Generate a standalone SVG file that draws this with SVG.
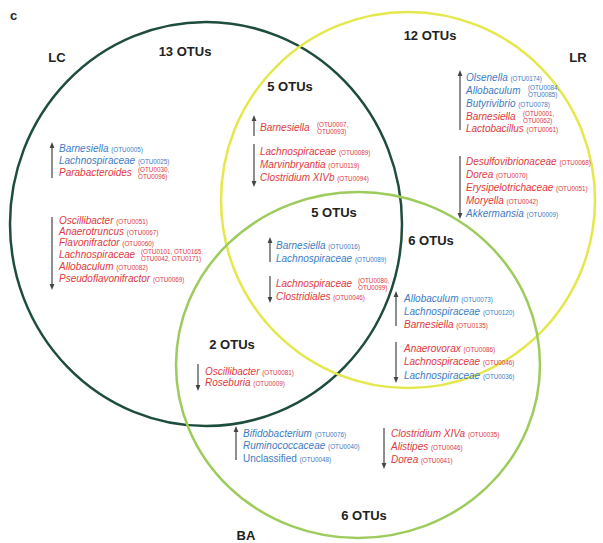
<svg xmlns="http://www.w3.org/2000/svg" width="603" height="543" viewBox="0 0 603 543">
<defs>
<marker id="ah" viewBox="0 0 10 10" refX="5" refY="5" markerWidth="5" markerHeight="5" orient="auto-start-reverse"><path d="M0,1 L10,5 L0,9 Z" fill="#444"/></marker>
<style>
text{font-family:"Liberation Sans",Arial,sans-serif}
.h{font-weight:bold;font-size:13px;fill:#222;text-anchor:middle}
.n{font-style:italic;font-size:10px}
.u{font-style:normal;font-size:6.3px}
.b{fill:#3b7cc4}
.r{fill:#e0393e}
.ar{stroke:#444;stroke-width:1.2;fill:none;marker-end:url(#ah)}
</style>
</defs>
<rect width="603" height="543" fill="#fff"/>
<g id="sets" fill="none" stroke-width="2.5">
<ellipse id="LC" cx="206" cy="224" rx="196" ry="202" stroke="#1f4d3c"/>
<ellipse id="LR" cx="408" cy="200" rx="187" ry="188" stroke="#e5e84c"/>
<ellipse id="BA" cx="358" cy="365" rx="182" ry="173" stroke="#9dcb5c"/>
</g>
<text x="10" y="20" style="font-weight:bold;font-size:13px;fill:#222">c</text>
<g id="labels">
<text class="h" x="57" y="62">LC</text>
<text class="h" x="185" y="56">13 OTUs</text>
<text class="h" x="430" y="40">12 OTUs</text>
<text class="h" x="578" y="62">LR</text>
<text class="h" x="290" y="91">5 OTUs</text>
<text class="h" x="334" y="217">5 OTUs</text>
<text class="h" x="431" y="245">6 OTUs</text>
<text class="h" x="232" y="349">2 OTUs</text>
<text class="h" x="364" y="520">6 OTUs</text>
<text class="h" x="246" y="540">BA</text>
</g>
<g id="connectors">
<line class="ar" x1="52" y1="178" x2="52" y2="145"/>
<line class="ar" x1="52" y1="217" x2="52" y2="287"/>
<line class="ar" x1="254" y1="136" x2="254" y2="118"/>
<line class="ar" x1="254" y1="144" x2="254" y2="184"/>
<line class="ar" x1="460" y1="130" x2="460" y2="73"/>
<line class="ar" x1="460" y1="156" x2="460" y2="216"/>
<line class="ar" x1="270" y1="262" x2="270" y2="240"/>
<line class="ar" x1="270" y1="276" x2="270" y2="300"/>
<line class="ar" x1="396" y1="326" x2="396" y2="294"/>
<line class="ar" x1="396" y1="342" x2="396" y2="380"/>
<line class="ar" x1="198" y1="364" x2="198" y2="388"/>
<line class="ar" x1="236" y1="460" x2="236" y2="429"/>
<line class="ar" x1="384" y1="428" x2="384" y2="466"/>
</g>
<g id="LC-only">
<text class="n b" x="59" y="152">Barnesiella <tspan class="u">(OTU0005)</tspan></text>
<text class="n b" x="59" y="164">Lachnospiraceae <tspan class="u">(OTU0025)</tspan></text>
<text class="n r" x="59" y="176">Parabacteroides</text>
<text class="u r" x="138" y="172">(OTU0030,</text>
<text class="u r" x="138" y="179">OTU0096)</text>
<text class="n r" x="59" y="224">Oscillibacter <tspan class="u">(OTU0051)</tspan></text>
<text class="n r" x="59" y="235">Anaerotruncus <tspan class="u">(OTU0067)</tspan></text>
<text class="n r" x="59" y="246">Flavonifractor <tspan class="u">(OTU0060)</tspan></text>
<text class="n r" x="59" y="258">Lachnospiraceae</text>
<text class="u r" x="141" y="254">(OTU0101, OTU0165,</text>
<text class="u r" x="141" y="261">OTU0042, OTU0171)</text>
<text class="n r" x="59" y="270">Allobaculum <tspan class="u">(OTU0082)</tspan></text>
<text class="n r" x="59" y="282">Pseudoflavonifractor <tspan class="u">(OTU0069)</tspan></text>
</g>
<g id="LC-LR">
<text class="n r" x="260" y="131">Barnesiella</text>
<text class="u r" x="317" y="127">(OTU0007,</text>
<text class="u r" x="317" y="134">OTU0093)</text>
<text class="n r" x="260" y="155">Lachnospiraceae <tspan class="u">(OTU0089)</tspan></text>
<text class="n r" x="260" y="168">Marvinbryantia <tspan class="u">(OTU0119)</tspan></text>
<text class="n r" x="260" y="181">Clostridium XIVb <tspan class="u">(OTU0094)</tspan></text>
</g>
<g id="LR-only">
<text class="n b" x="466" y="81">Olsenella <tspan class="u">(OTU0174)</tspan></text>
<text class="n b" x="466" y="94">Allobaculum</text>
<text class="u b" x="528" y="90">(OTU0084,</text>
<text class="u b" x="528" y="97">OTU0085)</text>
<text class="n b" x="466" y="107">Butyrivibrio <tspan class="u">(OTU0078)</tspan></text>
<text class="n r" x="466" y="120">Barnesiella</text>
<text class="u r" x="523" y="116">(OTU0001,</text>
<text class="u r" x="523" y="123">OTU0062)</text>
<text class="n r" x="466" y="132">Lactobacillus <tspan class="u">(OTU0061)</tspan></text>
<text class="n r" x="466" y="165">Desulfovibrionaceae <tspan class="u">(OTU0068)</tspan></text>
<text class="n r" x="466" y="178">Dorea <tspan class="u">(OTU0070)</tspan></text>
<text class="n r" x="466" y="191">Erysipelotrichaceae <tspan class="u">(OTU0051)</tspan></text>
<text class="n r" x="466" y="204">Moryella <tspan class="u">(OTU0042)</tspan></text>
<text class="n b" x="466" y="217">Akkermansia <tspan class="u">(OTU0009)</tspan></text>
</g>
<g id="LC-LR-BA">
<text class="n b" x="276" y="249">Barnesiella <tspan class="u">(OTU0016)</tspan></text>
<text class="n b" x="276" y="262">Lachnospiraceae <tspan class="u">(OTU0089)</tspan></text>
<text class="n r" x="276" y="287">Lachnospiraceae</text>
<text class="u r" x="358" y="283">(OTU0080,</text>
<text class="u r" x="358" y="290">OTU0099)</text>
<text class="n r" x="276" y="300">Clostridiales <tspan class="u">(OTU0046)</tspan></text>
</g>
<g id="LR-BA">
<text class="n b" x="404" y="302">Allobaculum <tspan class="u">(OTU0073)</tspan></text>
<text class="n b" x="404" y="315">Lachnospiraceae <tspan class="u">(OTU0120)</tspan></text>
<text class="n r" x="404" y="328">Barnesiella <tspan class="u">(OTU0135)</tspan></text>
<text class="n r" x="404" y="352">Anaerovorax <tspan class="u">(OTU0086)</tspan></text>
<text class="n r" x="404" y="365">Lachnospiraceae <tspan class="u">(OTU0046)</tspan></text>
<text class="n b" x="404" y="379">Lachnospiraceae <tspan class="u">(OTU0036)</tspan></text>
</g>
<g id="LC-BA">
<text class="n r" x="205" y="375">Oscillibacter <tspan class="u">(OTU0081)</tspan></text>
<text class="n r" x="205" y="386">Roseburia <tspan class="u">(OTU0009)</tspan></text>
</g>
<g id="BA-only">
<text class="n b" x="243" y="437">Bifidobacterium <tspan class="u">(OTU0076)</tspan></text>
<text class="n b" x="243" y="449">Ruminococcaceae <tspan class="u">(OTU0040)</tspan></text>
<text class="b" x="243" y="462" style="font-size:10px">Unclassified <tspan class="u">(OTU0048)</tspan></text>
<text class="n r" x="391" y="437">Clostridium XIVa <tspan class="u">(OTU0035)</tspan></text>
<text class="n r" x="391" y="450">Alistipes <tspan class="u">(OTU0046)</tspan></text>
<text class="n r" x="391" y="463">Dorea <tspan class="u">(OTU0041)</tspan></text>
</g>
</svg>
